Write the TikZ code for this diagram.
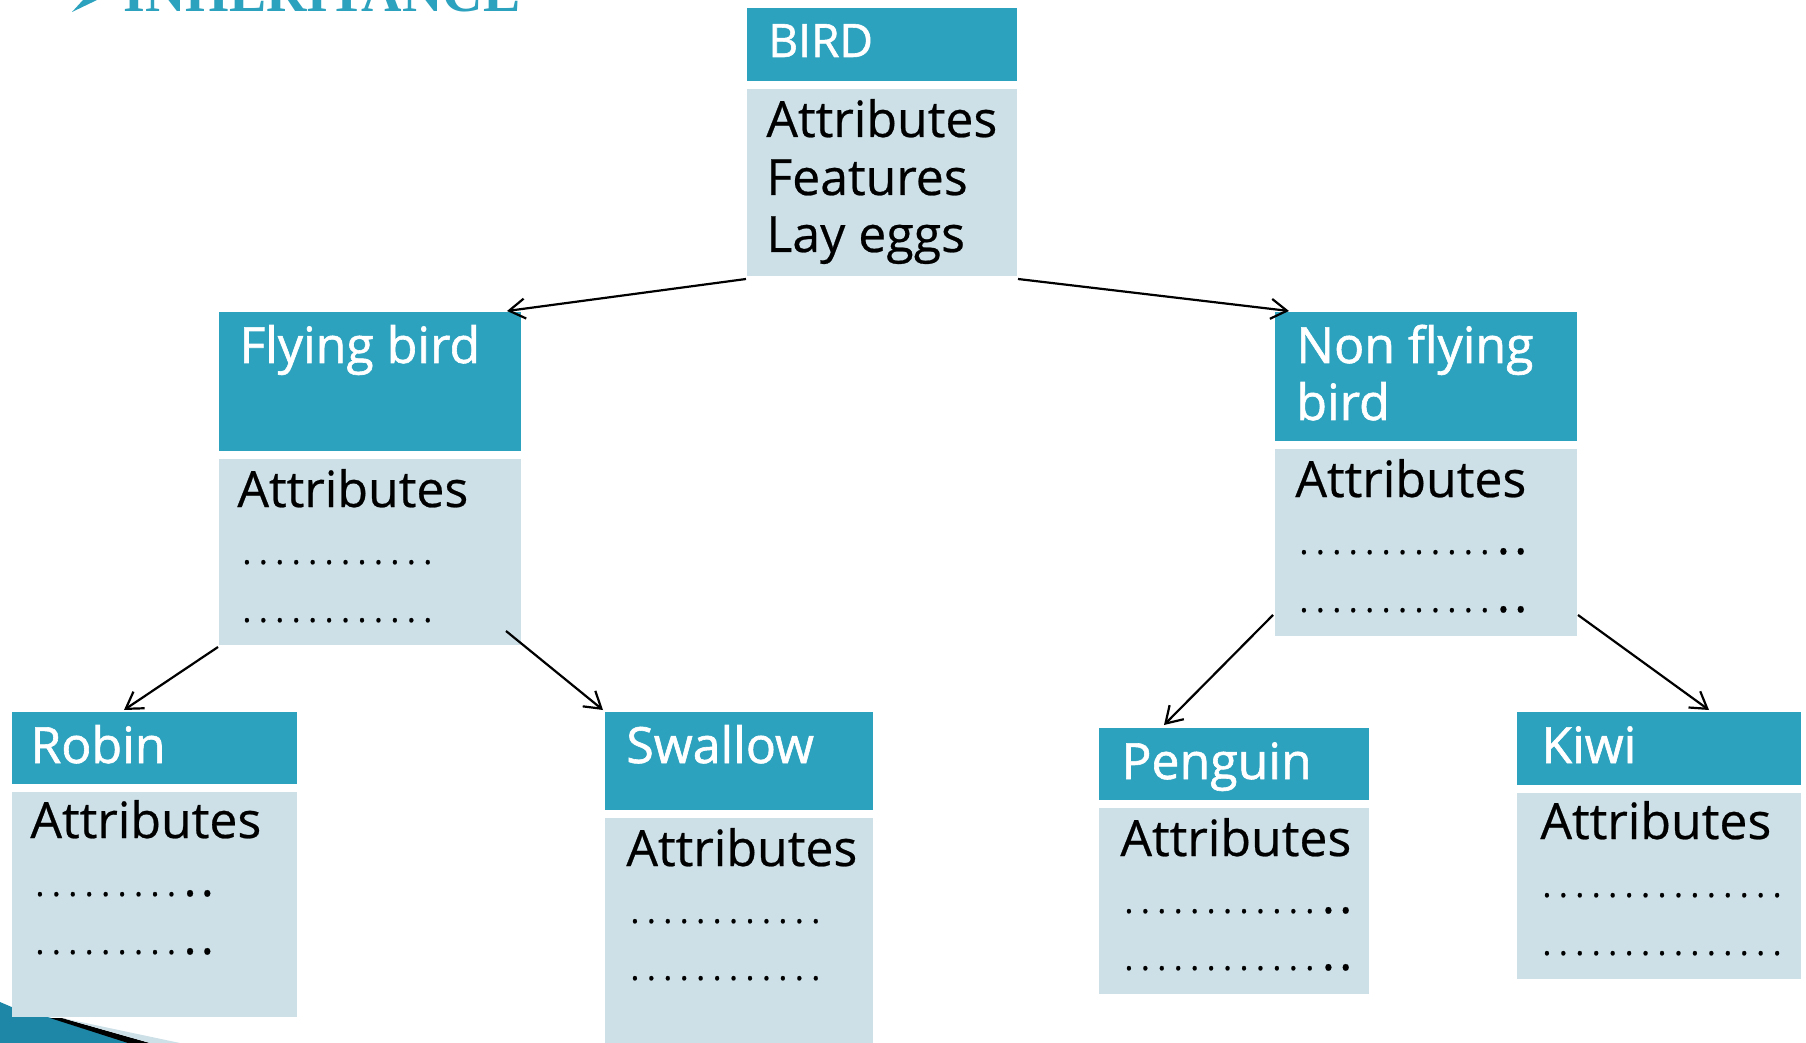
\documentclass[tikz,border=0pt]{standalone}
\usepackage{fontspec}
\setmainfont{Open Sans}
\newfontfamily\hdrfont[FakeBold=1.2]{Open Sans}
\newfontfamily\bodyfont[FakeBold=0.5]{Open Sans}
\newfontfamily\titlefont{Liberation Serif}
\usetikzlibrary{arrows.meta,calc}
\definecolor{hdrteal}{HTML}{2DA2BE}
\definecolor{bodyblue}{HTML}{CDE0E7}
\definecolor{swoosh}{HTML}{1E86A6}
\newcommand\sd{{\fontsize{17}{20}\selectfont.}\kern3.7pt}
\newcommand\bd{.\kern2pt}
\newcommand\el{\sd\sd\sd}
\begin{document}
\begin{tikzpicture}[x=0.5pt,y=-0.5pt,
  hdrbox/.style={fill=hdrteal, draw=none, anchor=north west, inner sep=0pt, outer sep=0pt},
  bodybox/.style={fill=bodyblue, draw=none, anchor=north west, inner sep=0pt, outer sep=0pt},
  htext/.style={anchor=base west, inner sep=0pt, text=white, font=\hdrfont\fontsize{25}{30}\selectfont},
  btext/.style={anchor=base west, inner sep=0pt, text=black, font=\bodyfont\fontsize{25}{30}\selectfont},
  link/.style={-{Straight Barb[length=8pt,width=10pt]}, line width=1.1pt}
]
\useasboundingbox (0,0) rectangle (1806,1043);
% bottom-left slide decoration
\fill[swoosh] (0,1002) -- (14,1008) -- (55,1019) -- (135,1043) -- (0,1043) -- cycle;
\fill[black] (50,1018) -- (62,1018) -- (150,1043) -- (128,1043) -- cycle;
\fill[bodyblue] (62,1018) -- (180,1043) -- (150,1043) -- cycle;
% title (cut off at top)
\fill[hdrteal] (72,12) -- (83,0) -- (97,0) -- cycle;
\node[anchor=base west, inner sep=0pt, text=hdrteal, font=\titlefont\bfseries\fontsize{28}{30}\selectfont] (title) at (123,12) {INHERITANCE};
% BIRD
\node[hdrbox, minimum width=135pt, minimum height=36.5pt] (birdH) at (747,8) {};
\node[bodybox, minimum width=135pt, minimum height=93.5pt] (birdB) at (747,89) {};
\node[htext, font=\hdrfont\fontsize{23}{28}\selectfont] (birdT) at (768,57) {BIRD};
\node[btext] (birdL1) at (766,137) {Attributes};
\node[btext] (birdL2) at (766,195) {Features};
\node[btext] (birdL3) at (766,252) {Lay eggs};
% Flying bird
\node[hdrbox, minimum width=151pt, minimum height=69.5pt] (flyH) at (219,312) {};
\node[bodybox, minimum width=151pt, minimum height=93pt] (flyB) at (219,459) {};
\node[htext] (flyT) at (239,363) {Flying bird};
\node[btext] (flyL1) at (237,507) {Attributes};
\node[btext] (flyL2) at (242,564) {\el\el\el\el};
\node[btext] (flyL3) at (242,622) {\el\el\el\el};
% Non flying bird
\node[hdrbox, minimum width=151pt, minimum height=64.5pt] (nonH) at (1275,312) {};
\node[bodybox, minimum width=151pt, minimum height=93.5pt] (nonB) at (1275,449) {};
\node[htext] (nonT1) at (1296,363) {Non flying};
\node[htext] (nonT2) at (1296,420) {bird};
\node[btext] (nonL1) at (1295,497) {Attributes};
\node[btext] (nonL2) at (1299,554) {\el\el\el\el\bd\bd};
\node[btext] (nonL3) at (1299,612) {\el\el\el\el\bd\bd};
% Robin
\node[hdrbox, minimum width=142.5pt, minimum height=36pt] (robH) at (12,712) {};
\node[bodybox, minimum width=142.5pt, minimum height=112.5pt] (robB) at (12,792) {};
\node[htext] (robT) at (30,763) {Robin};
\node[btext] (robL1) at (30,838) {Attributes};
\node[btext] (robL2) at (35,896) {\el\el\el\bd\bd};
\node[btext] (robL3) at (35,954) {\el\el\el\bd\bd};
% Swallow
\node[hdrbox, minimum width=134pt, minimum height=49pt] (swaH) at (605,712) {};
\node[bodybox, minimum width=134pt, minimum height=116pt] (swaB) at (605,818) {};
\node[htext] (swaT) at (626,763) {Swallow};
\node[btext] (swaL1) at (626,866) {Attributes};
\node[btext] (swaL2) at (630,923) {\el\el\el\el};
\node[btext] (swaL3) at (630,980) {\el\el\el\el};
% Penguin
\node[hdrbox, minimum width=135pt, minimum height=36pt] (penH) at (1099,728) {};
\node[bodybox, minimum width=135pt, minimum height=93pt] (penB) at (1099,808) {};
\node[htext] (penT) at (1121,779) {Penguin};
\node[btext] (penL1) at (1120,856) {Attributes};
\node[btext] (penL2) at (1124,913) {\el\el\el\el\bd\bd};
\node[btext] (penL3) at (1124,970) {\el\el\el\el\bd\bd};
% Kiwi
\node[hdrbox, minimum width=142pt, minimum height=36.5pt] (kiwH) at (1517,712) {};
\node[bodybox, minimum width=142pt, minimum height=93pt] (kiwB) at (1517,793) {};
\node[htext] (kiwT) at (1541,763) {Kiwi};
\node[btext] (kiwL1) at (1540,839) {Attributes};
\node[btext] (kiwL2) at (1542,897) {\el\el\el\el\el};
\node[btext] (kiwL3) at (1542,955) {\el\el\el\el\el};
% connectors
\draw[link] ($(birdB.south west)+(-1,3)$) -- ($(flyH.north east)+(-14,-1)$);
\draw[link] ($(birdB.south east)+(1,3)$) -- ($(nonH.north west)+(14,-1)$);
\draw[link] ($(flyB.south west)+(-1,2)$) -- ($(robH.north west)+(112,-2)$);
\draw[link] ($(flyB.south east)+(-15,-14)$) -- ($(swaH.north west)+(-2,-2)$);
\draw[link] ($(nonB.south west)+(-2,-21)$) -- ($(penH.north west)+(65,-3)$);
\draw[link] ($(nonB.south east)+(1,-21)$) -- ($(kiwH.north west)+(192,-2)$);
\end{tikzpicture}
\end{document}
